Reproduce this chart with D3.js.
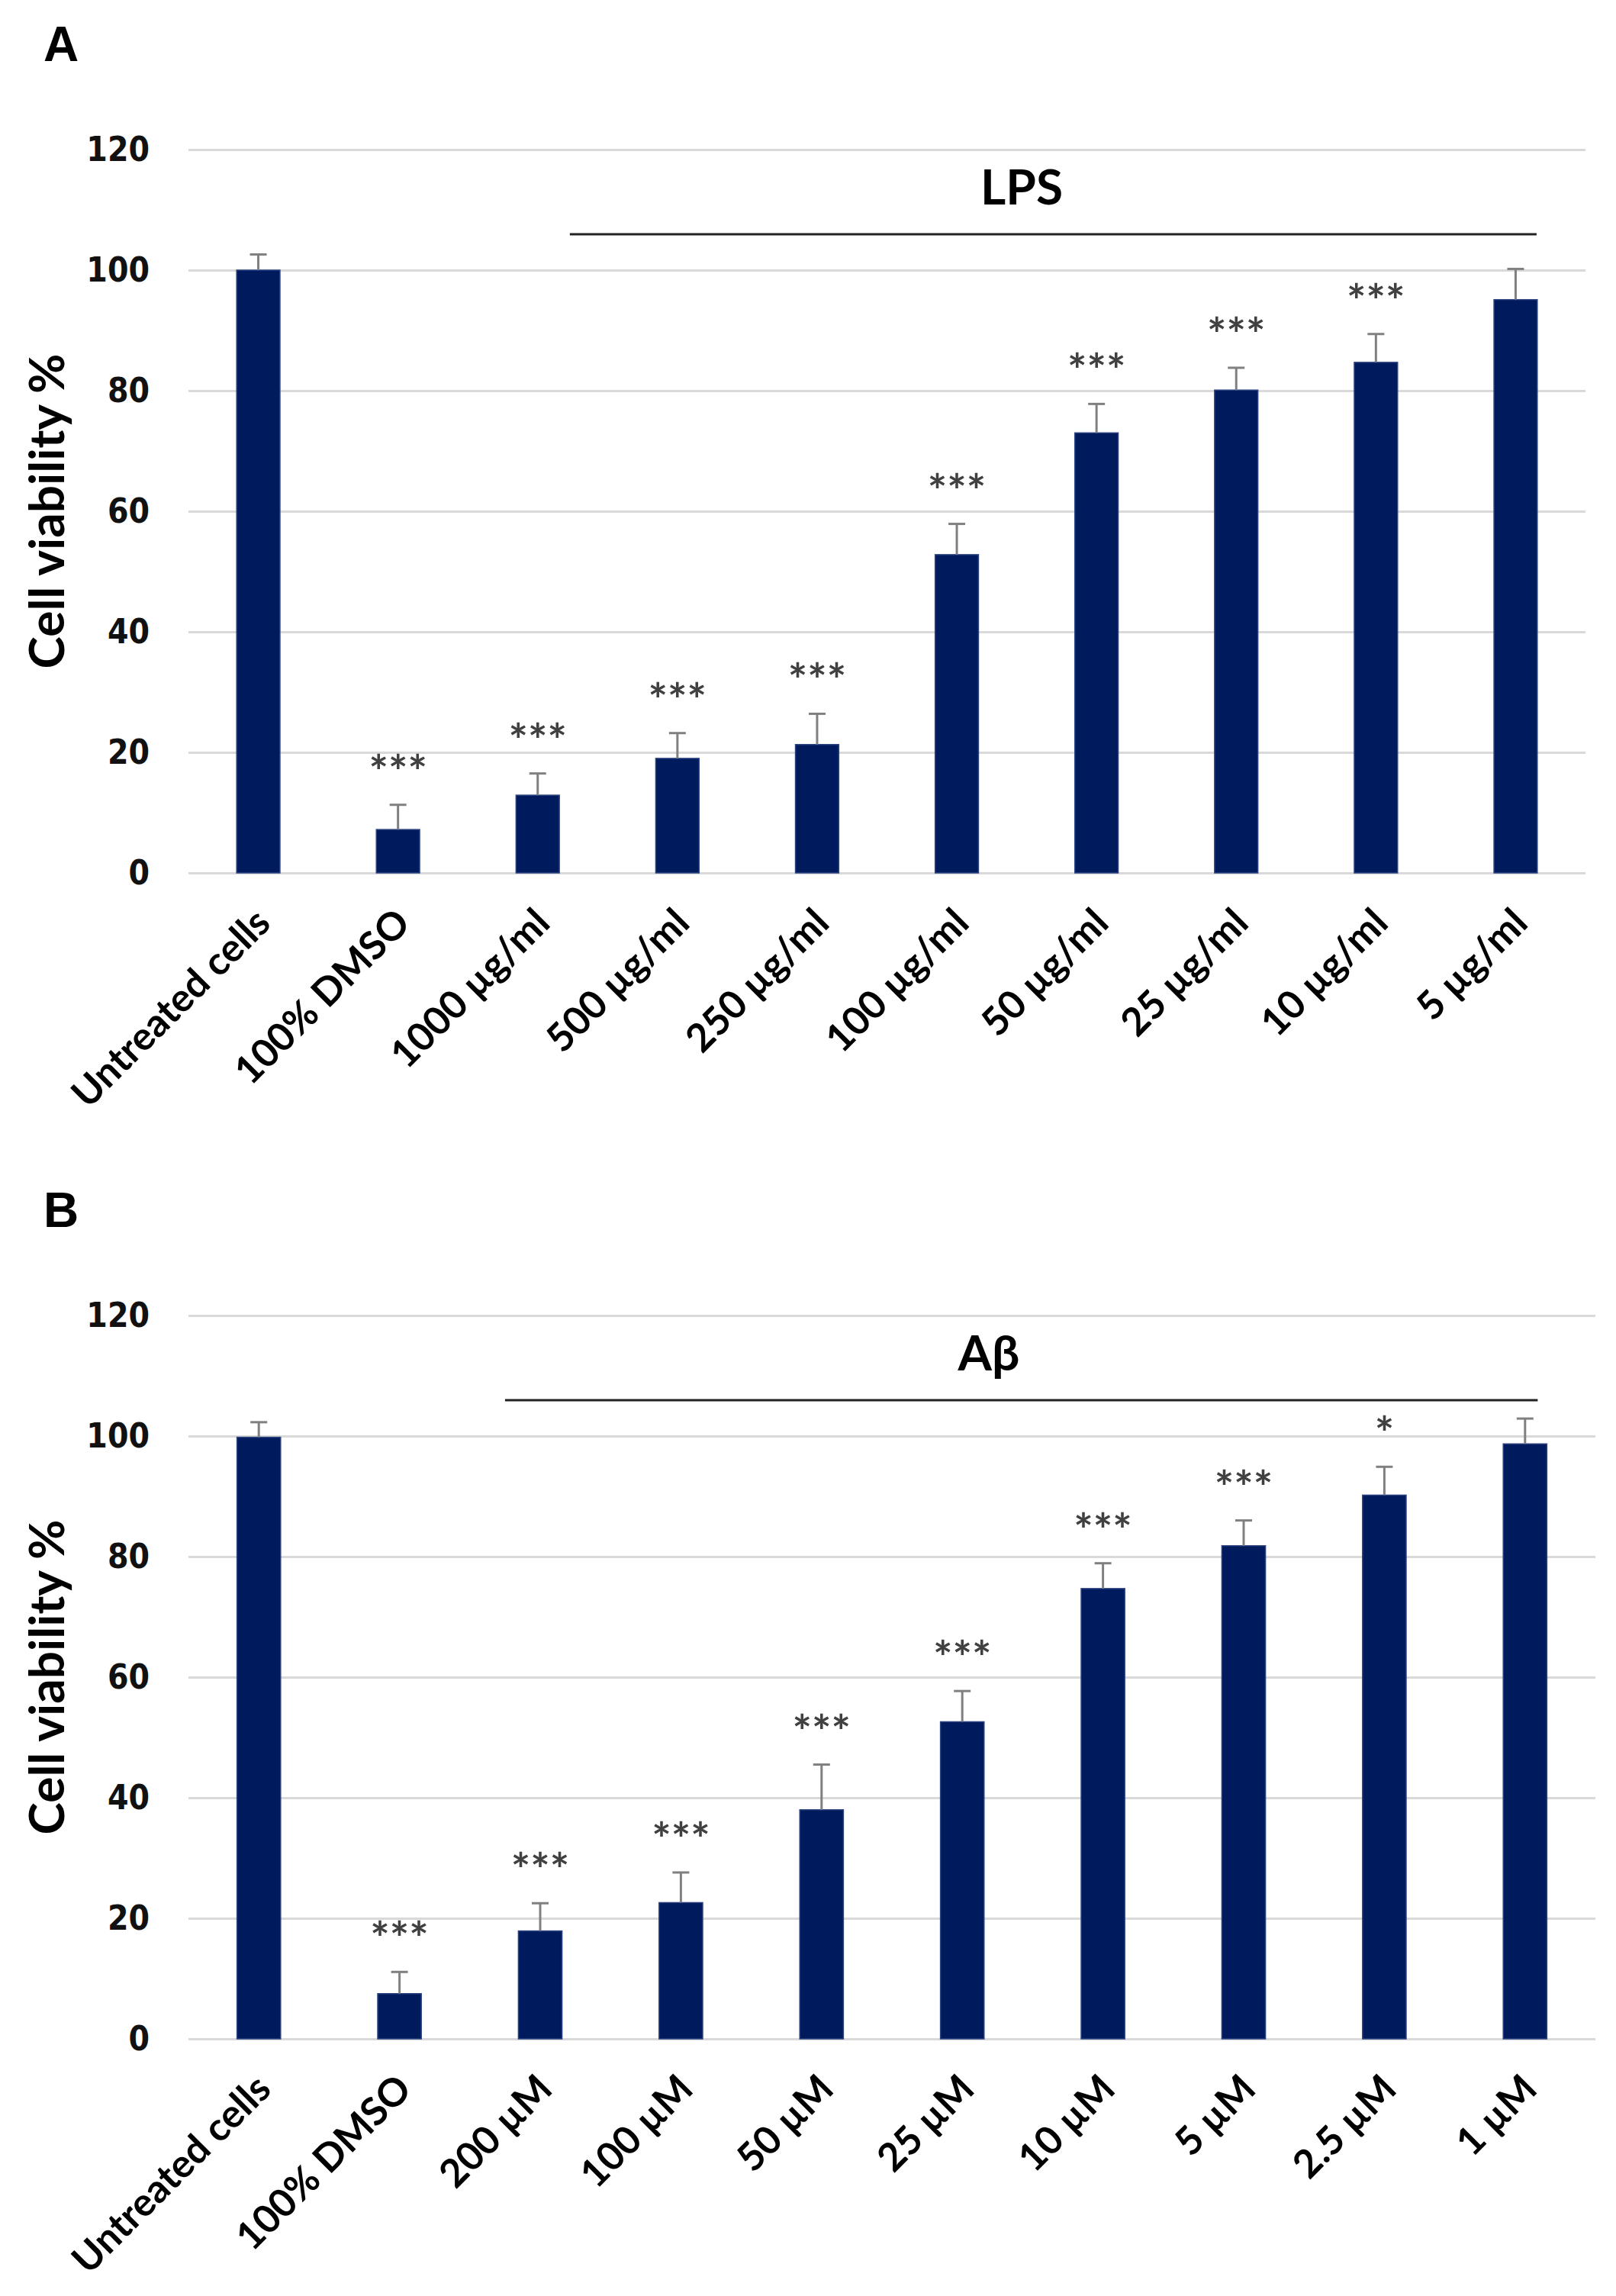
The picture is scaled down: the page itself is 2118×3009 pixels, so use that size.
<!DOCTYPE html>
<html>
<head>
<meta charset="utf-8">
<script src="https://cdn.jsdelivr.net/npm/d3@7"></script>
<style>
  body { margin: 0; background: #fff; }
  svg { display: block; }
</style>
</head>
<body>
<div id="app"></div>
<script>
// panel A : LPS
const catsA = ["Untreated cells", "100% DMSO", "1000 µg/ml", "500 µg/ml", "250 µg/ml",
  "100 µg/ml", "50 µg/ml", "25 µg/ml", "10 µg/ml", "5 µg/ml"];
const meanA = [100, 7.2, 12.9, 19.0, 21.3, 52.8, 73.0, 80.1, 84.7, 95.1];
const errA = [2.6, 4.1, 3.6, 4.2, 5.1, 5.1, 4.8, 3.7, 4.7, 5.1];
const sigA = ["", "***", "***", "***", "***", "***", "***", "***", "***", ""];

// panel B : Abeta
const catsB = ["Untreated cells", "100% DMSO", "200 µM", "100 µM", "50 µM",
  "25 µM", "10 µM", "5 µM", "2.5 µM", "1 µM"];
const meanB = [99.8, 7.5, 17.9, 22.6, 38.0, 52.6, 74.7, 81.8, 90.2, 98.7];
const errB = [2.5, 3.6, 4.6, 5.0, 7.5, 5.1, 4.2, 4.2, 4.7, 4.2];
const sigB = ["", "***", "***", "***", "***", "***", "***", "***", "*", ""];

const yTicks = [0, 20, 40, 60, 80, 100, 120];

const W = 2118;
const H = 3009;
const barColor = "#001a5e";
const labelFont = "Lato, 'Open Sans', sans-serif";

const svg = d3.select("#app")
  .append("svg")
  .attr("width", W)
  .attr("height", H);

svg.append("rect").attr("width", W).attr("height", H).attr("fill", "#fff");

const panels = [
  { letter: "A", top: 0, x0: 247, x1: 2078, cats: catsA, mean: meanA, err: errA, sig: sigA,
    group: "LPS", span: [2.23, 9.15], groupX: 1339 },
  { letter: "B", top: 1528, x0: 247, x1: 2091, cats: catsB, mean: meanB, err: errB, sig: sigB,
    group: "Aβ", span: [1.75, 9.09], groupX: 1296 }
];

panels.forEach(drawPanel);

function drawPanel(p) {
  const g = svg.append("g").attr("transform", "translate(0," + p.top + ")");
  const yTop = 196;
  const yBot = 1144;

  const x = d3.scaleBand()
    .domain(p.cats)
    .range([p.x0, p.x1])
    .paddingInner(0.69)
    .paddingOuter(0.345);

  const y = d3.scaleLinear().domain([0, 120]).range([yBot, yTop]);

  // panel letter
  g.append("text")
    .attr("x", 57)
    .attr("y", 80)
    .style("font-family", "'Liberation Sans', Arial, sans-serif")
    .style("font-weight", "bold")
    .style("font-size", "64px")
    .text(p.letter);

  // gridlines
  const grid = g.append("g")
    .attr("transform", "translate(" + p.x0 + ",0)")
    .call(d3.axisLeft(y).tickValues(yTicks).tickSize(-(p.x1 - p.x0)).tickFormat(""));
  grid.select(".domain").remove();
  grid.selectAll("line").attr("stroke", "#d9d9d9").attr("stroke-width", 3);

  // y axis labels
  const yAxis = g.append("g")
    .attr("transform", "translate(" + (p.x0 - 51) + ",0)")
    .call(d3.axisLeft(y).tickValues(yTicks).tickSize(0).tickPadding(0));
  yAxis.select(".domain").remove();
  yAxis.selectAll("text")
    .style("font-family", "'DejaVu Sans Condensed', 'DejaVu Sans', sans-serif")
    .style("font-stretch", "condensed")
    .style("font-weight", "bold")
    .style("font-size", "44px")
    .attr("fill", "#111");

  // y title
  g.append("text")
    .attr("transform", "translate(84," + (yTop + yBot) / 2 + ") rotate(-90)")
    .attr("text-anchor", "middle")
    .style("font-family", labelFont)
    .style("font-weight", "bold")
    .style("font-size", "64px")
    .text("Cell viability %");

  // bars
  g.selectAll(".bar")
    .data(p.mean)
    .enter()
    .append("rect")
    .attr("class", "bar")
    .attr("x", (d, i) => x(p.cats[i]))
    .attr("y", (d) => y(d))
    .attr("width", x.bandwidth())
    .attr("height", (d) => yBot - y(d))
    .attr("fill", barColor)
    .attr("stroke", "#2c4380")
    .attr("stroke-width", 1.5);

  // error bars
  const cx = (i) => x(p.cats[i]) + x.bandwidth() / 2;
  const eb = g.selectAll(".err")
    .data(p.mean)
    .enter()
    .append("g")
    .attr("class", "err")
    .attr("stroke", "#808080")
    .attr("stroke-width", 3);
  eb.append("line")
    .attr("x1", (d, i) => cx(i))
    .attr("x2", (d, i) => cx(i))
    .attr("y1", (d) => y(d))
    .attr("y2", (d, i) => y(d + p.err[i]));
  eb.append("line")
    .attr("x1", (d, i) => cx(i) - 11)
    .attr("x2", (d, i) => cx(i) + 11)
    .attr("y1", (d, i) => y(d + p.err[i]))
    .attr("y2", (d, i) => y(d + p.err[i]));

  // significance stars
  g.selectAll(".sig")
    .data(p.sig)
    .enter()
    .append("text")
    .attr("class", "sig")
    .attr("x", (d, i) => cx(i))
    .attr("y", (d, i) => y(p.mean[i] + p.err[i]) - 22)
    .attr("text-anchor", "middle")
    .style("font-family", labelFont)
    .style("font-weight", "bold")
    .style("font-size", "60px")
    .attr("fill", "#404040")
    .text((d) => d);

  // x axis labels
  const xAxis = g.append("g")
    .attr("transform", "translate(0," + yBot + ")")
    .call(d3.axisBottom(x).tickSize(0).tickPadding(0));
  xAxis.select(".domain").remove();
  xAxis.selectAll("text")
    .attr("text-anchor", "end")
    .attr("transform", "translate(6,56) rotate(-45)")
    .attr("dy", "0.35em")
    .attr("y", 0)
    .style("font-family", labelFont)
    .style("font-weight", "bold")
    .style("font-size", "51px")
    .attr("fill", "#000");

  // treatment bracket
  const step = x.step();
  const c0 = x(p.cats[0]) + x.bandwidth() / 2;
  g.append("line")
    .attr("x1", c0 + p.span[0] * step)
    .attr("x2", c0 + p.span[1] * step)
    .attr("y1", 307)
    .attr("y2", 307)
    .attr("stroke", "#222")
    .attr("stroke-width", 3);
  g.append("text")
    .attr("x", p.groupX)
    .attr("y", 268)
    .attr("text-anchor", "middle")
    .style("font-family", labelFont)
    .style("font-weight", "bold")
    .style("font-size", "64px")
    .text(p.group);
}
</script>
</body>
</html>
